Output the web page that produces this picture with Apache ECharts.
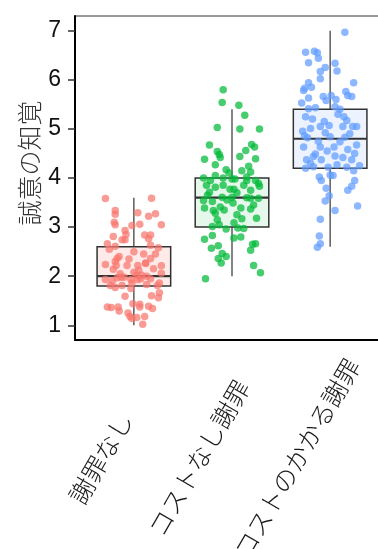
<!DOCTYPE html>
<html>
<head>
<meta charset="utf-8">
<script src="https://cdn.jsdelivr.net/npm/echarts@6/dist/echarts.min.js"></script>
<style>
html,body{margin:0;padding:0;background:#fff;}
#chart{width:378px;height:549px;}
</style>
</head>
<body>
<div id="chart"></div>
<script>
// ---- data ----
const categories = ['謝罪なし', 'コストなし謝罪', 'コストのかかる謝罪'];
const yTicks = [1, 2, 3, 4, 5, 6, 7];
const xPositions = [1, 2, 3];

// box statistics per group
const whiskerLow  = [1.0, 2.0, 2.6];
const q1          = [1.8, 3.0, 4.2];
const median      = [2.0, 3.6, 4.8];
const q3          = [2.6, 4.0, 5.4];
const whiskerHigh = [3.6, 5.4, 7.0];

// jittered points: [horizontal jitter, value]
const pointsNoApology = [
  [-0.29,3.58],[0.18,3.59],[-0.19,3.34],[-0.19,3.26],[0.04,3.29],[0.22,3.27],[0.15,3.22],
  [-0.20,3.10],[-0.19,3.05],[-0.02,3.03],[0.06,3.06],[0.28,3.05],[-0.09,2.93],[-0.08,2.85],
  [-0.21,2.81],[0.11,2.84],[0.17,2.84],[0.15,2.76],[-0.12,2.74],[-0.09,2.74],[-0.27,2.66],
  [0.17,2.63],[0.25,2.58],[-0.19,2.61],[-0.15,2.40],[-0.17,2.36],[-0.19,2.30],[0.17,2.36],
  [0.12,2.27],[-0.29,2.24],[-0.07,2.22],[0.04,2.22],[0.28,2.21],[-0.21,2.14],[0.00,2.08],
  [0.05,2.12],[0.03,2.02],[0.08,2.02],[0.07,1.95],[0.04,1.93],[-0.13,1.98],[-0.10,1.98],
  [-0.17,1.97],[-0.03,1.93],[-0.29,1.93],[0.17,1.95],[0.28,2.06],[0.26,1.86],[0.24,1.81],
  [-0.12,1.81],[-0.19,1.77],[-0.02,1.86],[0.13,1.83],[-0.24,1.81],[0.26,1.66],[-0.09,1.59],
  [0.18,1.60],[0.25,1.56],[-0.27,1.37],[-0.23,1.36],[-0.16,1.37],[-0.01,1.44],[0.06,1.43],
  [0.06,1.37],[0.15,1.39],[0.19,1.34],[-0.15,1.29],[-0.06,1.25],[-0.04,1.18],[-0.02,1.14],
  [0.03,1.16],[0.11,1.18],[0.09,1.02],
  [-0.25,2.55],[0.10,2.45],[-0.05,2.35],[0.20,2.15],[-0.14,2.05],[0.13,2.00],[-0.22,1.90],
  [0.00,2.50],[0.22,2.45],[-0.03,1.75],[-0.18,2.22],[0.12,2.26]
];
const pointsFreeApology = [
  [-0.09,5.80],[-0.10,5.54],[0.07,5.48],[0.13,5.28],[-0.15,5.03],[0.08,5.00],[0.28,5.00],
  [-0.23,4.67],[-0.15,4.54],[-0.13,4.48],[-0.12,4.42],[0.20,4.68],[0.23,4.63],[0.14,4.56],
  [0.08,4.44],[0.24,4.39],[-0.28,4.38],[-0.17,4.27],[0.17,4.24],[-0.06,4.17],[0.10,4.15],
  [0.19,4.12],[-0.03,4.10],[-0.29,4.00],[-0.17,4.05],[-0.09,4.00],[0.00,3.98],[0.03,3.98],
  [0.15,4.02],[0.24,3.95],[0.27,3.89],[-0.26,3.85],[-0.17,3.81],[-0.09,3.85],[-0.02,3.77],
  [0.02,3.77],[0.19,3.75],[0.28,3.83],[-0.23,3.71],[-0.10,3.61],[0.00,3.61],[0.15,3.60],
  [0.19,3.59],[0.27,3.59],[-0.29,3.54],[-0.20,3.52],[0.01,3.49],[-0.28,3.39],[-0.19,3.34],
  [-0.17,3.28],[-0.12,3.41],[0.09,3.39],[0.19,3.37],[0.25,3.18],[0.10,3.17],[0.02,3.09],
  [0.06,2.98],[0.12,2.97],[-0.13,3.05],[-0.06,2.96],[-0.20,3.01],[0.02,2.78],[0.09,2.80],
  [-0.28,2.75],[-0.20,2.83],[0.24,2.66],[0.21,2.65],[0.19,2.53],[-0.21,2.57],[-0.14,2.62],
  [-0.10,2.46],[-0.06,2.40],[-0.14,2.36],[-0.11,2.27],[0.22,2.22],[0.29,2.07],[-0.27,1.95],
  [-0.22,3.95],[0.05,3.70],[-0.05,3.55],[0.12,3.85],[0.22,3.45],[-0.15,3.15],[0.05,3.25],
  [-0.25,3.65],[0.15,3.95],[-0.08,3.35]
];
const pointsCostlyApology = [
  [0.15,6.97],[-0.25,6.56],[-0.16,6.58],[-0.13,6.55],[-0.12,6.44],[-0.22,6.35],[0.05,6.34],
  [-0.05,6.25],[-0.10,6.17],[0.07,6.18],[-0.10,6.02],[-0.22,5.94],[0.24,5.94],[-0.26,5.83],
  [-0.27,5.78],[-0.19,5.85],[0.16,5.76],[0.18,5.68],[0.22,5.66],[-0.07,5.66],[0.01,5.68],
  [0.06,5.60],[-0.22,5.63],[-0.29,5.53],[-0.04,5.58],[-0.15,5.43],[-0.22,5.41],[0.05,5.45],
  [-0.25,5.25],[0.14,5.25],[0.17,5.17],[-0.06,5.15],[-0.01,5.07],[-0.10,5.05],[-0.20,5.01],
  [0.13,5.05],[0.23,5.05],[0.27,5.05],[-0.26,4.86],[-0.23,4.82],[0.00,4.84],[0.15,4.83],
  [0.10,4.74],[-0.10,4.63],[-0.27,4.63],[0.27,4.67],[0.18,4.58],[0.04,4.63],[-0.03,4.55],
  [-0.15,4.49],[-0.17,4.44],[0.22,4.37],[-0.24,4.37],[0.13,4.42],[-0.09,4.37],[0.30,4.25],
  [0.07,4.27],[-0.17,4.23],[-0.25,4.20],[-0.02,4.22],[0.17,4.22],[0.24,4.15],[-0.11,4.02],
  [0.00,4.06],[0.03,4.05],[-0.09,3.95],[0.25,3.95],[0.22,3.83],[0.18,3.75],[-0.04,3.79],
  [-0.01,3.64],[-0.05,3.53],[0.28,3.43],[0.05,3.34],[-0.10,3.16],[-0.11,2.82],[-0.10,2.66],
  [-0.13,2.59],
  [-0.18,5.20],[0.08,5.30],[-0.28,4.95],[0.20,4.90],[-0.12,4.75],[0.05,4.45],[0.25,4.50],
  [-0.20,4.30],[0.10,5.40],[-0.05,4.92]
];

// ---- styles ----
const pointColors = ['#F8766D', '#00BA38', '#619CFF'];
const boxFills = ['rgba(248,118,109,0.15)', 'rgba(0,186,56,0.10)', 'rgba(97,156,255,0.12)'];
const boxWidth = 0.75;

const boxData = xPositions.map((x, i) => [x, whiskerLow[i], q1[i], median[i], q3[i], whiskerHigh[i]]);
const pointGroups = [pointsNoApology, pointsFreeApology, pointsCostlyApology];

const chart = echarts.init(document.getElementById('chart'), null, {renderer: 'canvas'});

const scatterSeries = pointGroups.map((pts, g) => ({
  type: 'scatter',
  data: pts.map(p => [xPositions[g] + p[0], p[1]]),
  symbol: 'circle',
  symbolSize: 7.5,
  itemStyle: {color: pointColors[g], opacity: 0.72},
  z: 3,
  silent: true
}));

chart.setOption({
  animation: false,
  grid: {
    left: 75, top: 16, bottom: 209, right: -11,
    show: true, borderColor: '#333', borderWidth: 1,
    outerBoundsMode: 'none', containLabel: false
  },
  xAxis: {
    type: 'value', min: 0.4, max: 3.6,
    axisLine: {show: true, onZero: false, lineStyle: {color: '#000', width: 2}},
    axisTick: {show: false},
    splitLine: {show: false},
    axisLabel: {
      customValues: xPositions,
      formatter: v => categories[Math.round(v) - 1],
      rotate: 60,
      align: 'center',
      verticalAlign: 'middle',
      margin: 61,
      padding: [0, 132, 0, 0],
      fontFamily: 'Noto Sans CJK JP',
      fontWeight: 300,
      fontSize: 25,
      color: '#1a1a1a',
      hideOverlap: false
    }
  },
  yAxis: {
    type: 'value', min: 0.7, max: 7.3,
    name: '誠意の知覚',
    nameLocation: 'middle',
    nameGap: 33,
    nameMoveOverlap: false,
    nameTextStyle: {fontFamily: 'Noto Sans CJK JP', fontWeight: 300, fontSize: 25, color: '#333', padding: [0, 0, 0, 30]},
    axisLine: {show: true, onZero: false, lineStyle: {color: '#000', width: 2}},
    axisTick: {show: true, customValues: yTicks, length: 7, lineStyle: {color: '#333', width: 1.5}},
    splitLine: {show: false},
    axisLabel: {
      customValues: yTicks,
      margin: 14,
      fontFamily: 'Liberation Sans',
      fontSize: 23,
      color: '#111'
    }
  },
  series: [
    {
      type: 'custom',
      data: boxData,
      z: 2,
      silent: true,
      renderItem: function (params, api) {
        const x = api.value(0);
        const lo = api.coord([x, api.value(1)]);
        const b1 = api.coord([x, api.value(2)]);
        const md = api.coord([x, api.value(3)]);
        const b3 = api.coord([x, api.value(4)]);
        const hi = api.coord([x, api.value(5)]);
        const w = api.size([boxWidth, 0])[0];
        const idx = params.dataIndex;
        return {
          type: 'group',
          children: [
            {type: 'line', shape: {x1: hi[0], y1: hi[1], x2: b3[0], y2: b3[1]}, style: {stroke: '#333', lineWidth: 1.2}},
            {type: 'line', shape: {x1: b1[0], y1: b1[1], x2: lo[0], y2: lo[1]}, style: {stroke: '#333', lineWidth: 1.2}},
            {type: 'rect', shape: {x: b3[0] - w / 2, y: b3[1], width: w, height: b1[1] - b3[1]},
              style: {fill: boxFills[idx], stroke: '#333', lineWidth: 1.5}},
            {type: 'line', shape: {x1: md[0] - w / 2, y1: md[1], x2: md[0] + w / 2, y2: md[1]}, style: {stroke: '#333', lineWidth: 2.2}}
          ]
        };
      }
    }
  ].concat(scatterSeries)
});
</script>
</body>
</html>
